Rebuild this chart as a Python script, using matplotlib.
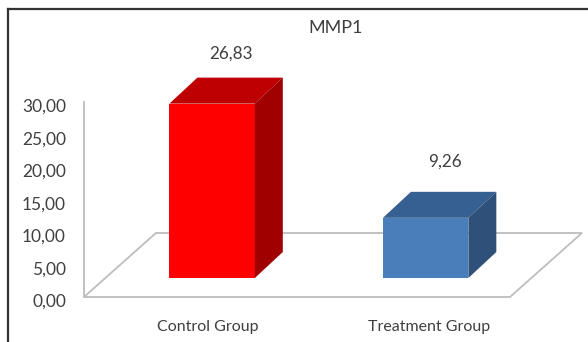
import matplotlib
matplotlib.use('Agg')
import matplotlib.pyplot as plt
from matplotlib.lines import Line2D
from matplotlib.patches import Polygon
from matplotlib.transforms import ScaledTranslation

categories = ['Control Group', 'Treatment Group']
values = [26.83, 9.26]
value_labels = ['26,83', '9,26']
y_ticks = [0, 5, 10, 15, 20, 25, 30]
y_tick_labels = ['0,00', '5,00', '10,00', '15,00', '20,00', '25,00', '30,00']

front_colors = ['#FF0000', '#4A7EBB']
top_colors = ['#BF0000', '#376092']
side_colors = ['#A00000', '#2F5078']
label_gaps = [3.7, 4.6]

W, H = 588, 342
plt.rcParams['font.family'] = ['Lato', 'DejaVu Sans']
text_col = '#404040'
line_col = '#BDBDBD'

fig = plt.figure(figsize=(W / 100, H / 100), dpi=100)
ax = fig.add_axes([84 / W, (H - 297) / H, 426 / W, 195 / H])
ax.set_xlim(-0.6, 1.395)
ax.set_ylim(0, 30)
ax.patch.set_alpha(0)

# profondeur du faux 3D, en unités des axes
bar_w = 0.4
base = 2.92
dx, dy = 0.131, 4.0
floor_dx, floor_dy = 0.337, 9.85
x0, x1 = ax.get_xlim()

ax.add_patch(Polygon([(x0, 0), (x1, 0), (x1 + floor_dx, floor_dy), (x0 + floor_dx, floor_dy)],
                     closed=True, fill=False, edgecolor=line_col, lw=1.3, clip_on=False, zorder=1))

for i, v in enumerate(values):
    left, right = i - bar_w / 2, i + bar_w / 2
    top = base + v
    ax.bar(i, v, width=bar_w, bottom=base, color=front_colors[i], zorder=3)
    ax.add_patch(Polygon([(left, top), (right, top), (right + dx, top + dy), (left + dx, top + dy)],
                         color=top_colors[i], lw=0, clip_on=False, zorder=3))
    ax.add_patch(Polygon([(right, base), (right + dx, base + dy), (right + dx, top + dy), (right, top)],
                         color=side_colors[i], lw=0, clip_on=False, zorder=3))
    ax.text(i + 0.09, top + dy + label_gaps[i], value_labels[i], ha='center', va='center',
            fontsize=12.3, color=text_col, zorder=4)

for s in ['top', 'right', 'bottom']:
    ax.spines[s].set_visible(False)
ax.spines['left'].set_color(line_col)
ax.spines['left'].set_linewidth(1.3)

ax.set_yticks(y_ticks)
ax.set_yticklabels(y_tick_labels, fontsize=12.5, color=text_col)
ax.tick_params(axis='y', length=0, pad=13)
shift = ScaledTranslation(0, -3.5 / 100, fig.dpi_scale_trans)
for lab in ax.get_yticklabels():
    lab.set_transform(lab.get_transform() + shift)

ax.set_xticks([-0.019, 1.016])
ax.set_xticklabels(categories, fontsize=11.5, color=text_col)
ax.tick_params(axis='x', length=0, pad=16.5)

fig.text(336 / W, 1 - 28 / H, 'MMP1', ha='center', va='center', fontsize=13, color=text_col)

# cadre de l'image d'origine : haut et gauche seulement
fig.add_artist(Line2D([8 / W, 1], [1 - 8.5 / H, 1 - 8.5 / H], color='#333333', lw=1.6))
fig.add_artist(Line2D([8 / W, 8 / W], [0, 1 - 8.5 / H], color='#333333', lw=1.6))

fig.savefig('out.png', dpi=100)
